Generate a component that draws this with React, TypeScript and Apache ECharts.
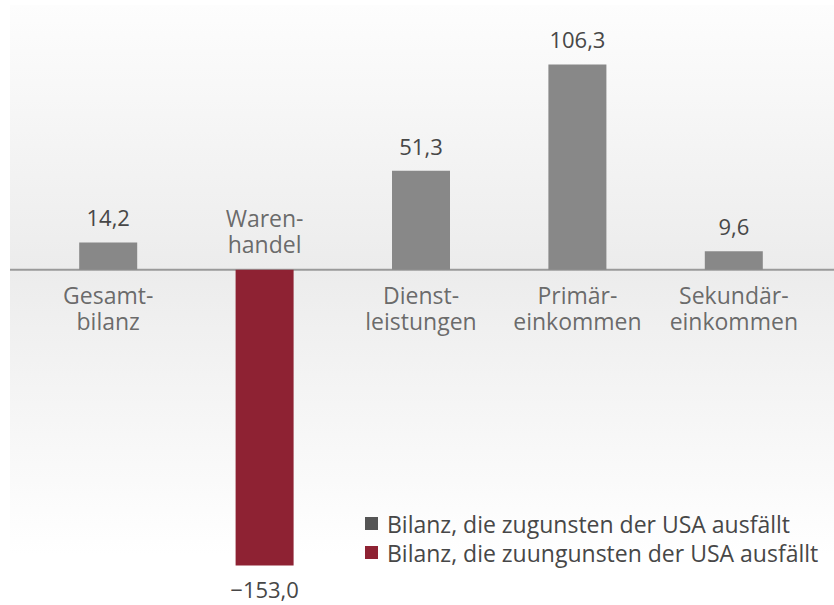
import React, { useEffect, useRef } from "react";
import * as echarts from "echarts";

const categories = ["Gesamt-\nbilanz", "Waren-\nhandel", "Dienst-\nleistungen", "Primär-\neinkommen", "Sekundär-\neinkommen"];
const favourable = [14.2, null, 51.3, 106.3, 9.6];
const unfavourable = [null, -153.0, null, null, null];
const seriesNames = ["Bilanz, die zugunsten der USA ausfällt", "Bilanz, die zuungunsten der USA ausfällt"];

const FONT = "'Open Sans', 'Noto Sans', sans-serif";
const TEXT = "#474747";
const GRAY = "#888888";
const RED = "#8e2233";

const fmt = (v: number) => {
  const s = Math.abs(v).toFixed(1).replace(".", ",");
  return v < 0 ? "\u2212" + s : s;
};

export default function App() {
  const ref = useRef<HTMLDivElement>(null);
  useEffect(() => {
    const chart = echarts.init(ref.current!, undefined, { renderer: "svg" });
    const labelPos = categories.map((_, i) => {
      const v = favourable[i] ?? unfavourable[i] ?? 0;
      return v < 0 ? "top" : "bottom";
    });
    chart.setOption({
      animation: false,
      backgroundColor: "#ffffff",
      textStyle: { fontFamily: FONT },
      grid: { left: 30, right: 22, top: 38, bottom: 26 },
      xAxis: {
        type: "category",
        data: categories,
        axisLine: { show: false },
        axisTick: { show: false },
        axisLabel: { show: false },
      },
      yAxis: {
        type: "value",
        min: -160,
        max: 120,
        show: false,
        splitLine: { show: false },
      },
      legend: {
        orient: "vertical",
        left: 360,
        top: 507,
        itemWidth: 13,
        itemHeight: 13,
        itemGap: 6,
        icon: "rect",
        textStyle: { fontSize: 23, color: TEXT, fontFamily: FONT, padding: [0, 0, 0, 4] },
        data: [
          { name: seriesNames[0], itemStyle: { color: "#555555" } },
          { name: seriesNames[1], itemStyle: { color: RED } },
        ],
      },
      graphic: [
        {
          id: "bg",
          type: "rect",
          z: -100,
          shape: { x: 10, y: 5, width: 824, height: 550 },
          style: {
            fill: new echarts.graphic.LinearGradient(0, 0, 0, 1, [
              { offset: 0, color: "#fdfdfd" },
              { offset: 0.48, color: "#ececec" },
              { offset: 1, color: "#ffffff" },
            ]),
          },
        },
      ],
      series: [
        {
          name: seriesNames[0],
          type: "bar",
          stack: "b",
          barWidth: 58,
          data: favourable,
          itemStyle: { color: GRAY },
          label: {
            show: true,
            position: "top",
            distance: 14,
            fontSize: 22,
            color: TEXT,
            fontFamily: FONT,
            formatter: (p: any) => fmt(p.value),
          },
        },
        {
          name: seriesNames[1],
          type: "bar",
          stack: "b",
          barWidth: 58,
          data: unfavourable,
          itemStyle: { color: RED },
          label: {
            show: true,
            position: "bottom",
            distance: 13,
            fontSize: 22,
            color: TEXT,
            fontFamily: FONT,
            formatter: (p: any) => fmt(p.value),
          },
        },
        {
          name: "names",
          type: "scatter",
          symbolSize: 1,
          itemStyle: { color: "rgba(0,0,0,0)" },
          z: 5,
          data: categories.map((c, i) => ({
            value: 0,
            label: { position: labelPos[i], distance: 12 },
          })),
          label: {
            show: true,
            fontSize: 23,
            lineHeight: 26,
            color: TEXT,
            fontFamily: FONT,
            align: "center",
            formatter: (p: any) => categories[p.dataIndex],
          },
        },
      ],
    });
    const y0 = chart.convertToPixel({ yAxisIndex: 0 }, 0) as number;
    chart.setOption({
      graphic: [
        {
          id: "zero",
          type: "line",
          z: 1,
          shape: { x1: 10, y1: y0, x2: 834, y2: y0 },
          style: { stroke: "#9a9a9a", lineWidth: 2 },
        },
      ],
    });
    return () => chart.dispose();
  }, []);
  return (
    <div
      ref={ref}
      style={{ position: "fixed", left: 0, top: 0, width: 834, height: 605 }}
    />
  );
}
